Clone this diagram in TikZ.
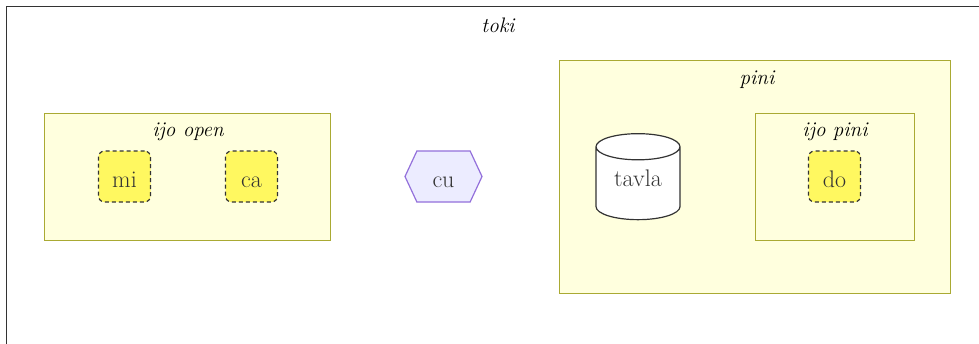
\documentclass[tikz,border=0pt]{standalone}
\usetikzlibrary{shapes.geometric,shapes.symbols}

\definecolor{clusterfill}{HTML}{FFFFDE}
\definecolor{clusterline}{HTML}{AAAA33}
\definecolor{notefill}{HTML}{FFF860}
\definecolor{hexfill}{HTML}{ECECFF}
\definecolor{hexline}{HTML}{9370DB}
\definecolor{ink}{HTML}{333333}

\tikzset{
  cluster/.style={draw=clusterline, fill=clusterfill, line width=1.2pt, inner sep=0pt},
  title/.style={font=\fontsize{21}{24}\selectfont\itshape, text=black},
  label/.style={text=ink, font=\fontsize{24}{28}\selectfont, text height=21.5pt, text depth=0pt},
  box/.style={label, draw=ink, fill=notefill, dash pattern=on 4pt off 3pt, rounded corners=6pt,
    line width=1.2pt, minimum width=52pt, minimum height=51pt, inner sep=0pt},
}

\begin{document}
\begin{tikzpicture}[x=1pt,y=-1pt]
  \useasboundingbox (0,0) rectangle (979,343);
  \clip (0,0) rectangle (979,343);

  % outer frame
  \node[draw=ink, fill=white, line width=1.2pt, inner sep=0pt,
        minimum width=1000pt, minimum height=380pt, anchor=north west] (toki) at (6,6) {};
  \node[title] (tokititle) at (498,25) {toki};

  % left group
  \node[cluster, minimum width=286pt, minimum height=127pt, anchor=north west] (ijoopen) at (44,113) {};
  \node[title] (openlabel) at (188,132) {ijo open};
  \node[box] (mi) at (124.5,176.5) {mi};
  \node[box] (ca) at (251.5,176.5) {ca};

  % middle
  \node[label, signal, signal to=west and east, signal pointer angle=130,
        draw=hexline, fill=hexfill, line width=1.2pt, inner sep=0pt,
        minimum width=77pt, minimum height=51pt] (cu) at (443.5,176.5) {cu};

  % right group
  \node[cluster, minimum width=391pt, minimum height=233pt, anchor=north west] (pini) at (559,60) {};
  \node[title] (pinilabel) at (757,80) {pini};
  \node[label, text height=6.4pt, cylinder, shape border rotate=90, aspect=0.55, draw=ink, fill=white,
        line width=1.2pt, inner sep=0pt, minimum width=84pt, minimum height=86pt] (tavla) at (638,183.5) {tavla};
  \node[cluster, minimum width=159pt, minimum height=127pt, anchor=north west] (ijopini) at (755,113) {};
  \node[title] (pinilabel2) at (835,132) {ijo pini};
  \node[box] (do) at (834.5,176.5) {do};

\end{tikzpicture}
\end{document}
